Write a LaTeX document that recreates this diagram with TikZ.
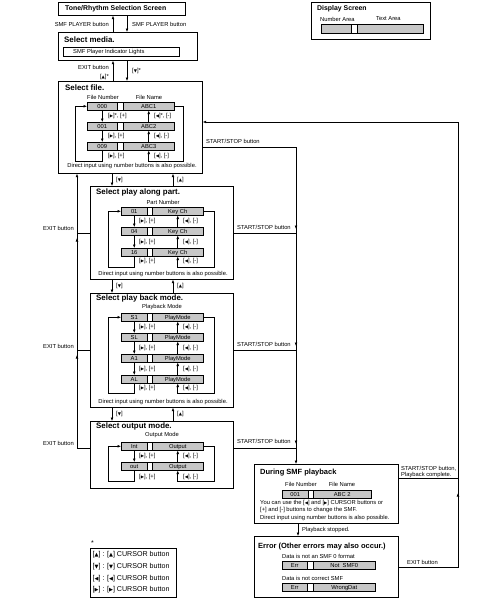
\documentclass[tikz,border=0pt]{standalone}
\usepackage{fontspec}
\setmainfont{Liberation Sans}
\newfontfamily\symf{DejaVu Sans}[Scale=0.72]
\usetikzlibrary{arrows.meta,calc}
\newcommand\tU{{\symf ▲}}
\newcommand\tD{{\symf ▼}}
\newcommand\tL{{\symf ◀}}
\newcommand\tR{{\symf ▶}}
\newcommand\smallf{\fontsize{5.8}{6.4}\selectfont}
\newcommand\titlef{\fontsize{7.9}{9}\selectfont\bfseries}
\newcommand\titlefb{\fontsize{7.5}{9}\selectfont\bfseries}
\newcommand\toptitlef{\fontsize{6.9}{8}\selectfont\bfseries}
\newcommand\legf{\fontsize{7.1}{8}\selectfont}
\tikzset{
  box/.style={draw, line width=0.7pt, inner sep=0pt, anchor=north west},
  thinbox/.style={draw, line width=0.5pt, inner sep=0pt, anchor=north west},
  gbox/.style={draw, fill=black!22, line width=0.5pt, inner sep=0pt, anchor=north west, font=\smallf, text height=4.1pt, text depth=0pt},
  wbox/.style={draw, fill=white, line width=0.5pt, inner sep=0pt, anchor=north west},
  ttl/.style={anchor=west, inner sep=0pt, font=\titlef},
  ttlb/.style={anchor=west, inner sep=0pt, font=\titlefb},
  lbl/.style={anchor=west, inner sep=0pt, font=\smallf},
  lblr/.style={anchor=east, inner sep=0pt, font=\smallf},
  ctr/.style={inner sep=0pt, font=\smallf},
  leg/.style={anchor=west, inner sep=0pt, font=\legf},
  ln/.style={line width=0.6pt},
  arr/.style={line width=0.6pt, -{Latex[length=3.5pt,width=2.8pt]}},
}
% name, x1, d1, d2, x2, ytop, number, text, height
\newcommand\rowbar[9]{%
  \node[gbox, minimum width={(#3-#2)*1pt}, minimum height={#9*1pt}] (#1n) at (#2,#6) {#7};
  \node[wbox, minimum width={(#4-#3)*1pt}, minimum height={#9*1pt}] (#1d) at (#3,#6) {};
  \node[gbox, minimum width={(#5-#4)*1pt}, minimum height={#9*1pt}] (#1t) at (#4,#6) {#8};
}
% first, last, bottom drop, left offset, right offset
\newcommand\loops[5]{%
  \draw[arr] (#2n.south) -- ++(0,#3) -| ($(#1n.west)+(-#4,0)$) -- (#1n.west);
  \draw[arr] (#1t.east) -- ++(#5,0) |- ($(#2t.south)+(0,#3)$) -- (#2t.south);
}
\begin{document}
\begin{tikzpicture}[x=1pt,y=-1pt]
\useasboundingbox (0,0) rectangle (487,600);

% ---------- top boxes
\node[box, minimum width=127pt, minimum height=13pt] (tone) at (58,2) {};
\node[anchor=west, inner sep=0pt, font=\toptitlef] (tonet) at (65,8.5) {Tone/Rhythm Selection Screen};

\node[box, minimum width=139pt, minimum height=28pt] (media) at (58,32) {};
\node[ttl] (mediat) at (64,40) {Select media.};
\node[thinbox, minimum width=116pt, minimum height=9pt] (ind) at (63,47) {};
\node[lbl] (indt) at (73,51.5) {SMF Player Indicator Lights};

\coordinate (xa) at (113,0);
\coordinate (xb) at (127,0);
\draw[arr] (xa |- media.north) -- (xa |- tone.south);
\draw[arr] (xb |- tone.south) -- (xb |- media.north);
\node[lblr] (sp1) at (109,24) {SMF PLAYER button};
\node[lbl] (sp2) at (132,24) {SMF PLAYER button};

% display screen
\node[box, minimum width=119pt, minimum height=37pt] (disp) at (311,2) {};
\node[anchor=west, inner sep=0pt, font=\toptitlef] (dispt) at (317,9) {Display Screen};
\node[lbl] (na) at (320,19) {Number Area};
\node[lbl] (ta) at (376,19) {Text Area};
\rowbar{da}{321}{351}{357}{423}{24}{}{}{9}

% ---------- select file
\node[box, minimum width=144pt, minimum height=92pt] (file) at (58,81) {};
\draw[arr] (xa |- file.north) -- (xa |- media.south);
\draw[arr] (xb |- media.south) -- (xb |- file.north);
\node[lblr] (ex0) at (109,67) {EXIT button};
\node[lblr] (ex0b) at (109,77) {[\tU]*};
\node[lbl] (dn0) at (132,71) {[\tD]*};

\node[ttl] (filet) at (65,88) {Select file.};
\node[ctr] (fnum) at (103,97) {File Number};
\node[ctr] (fnam) at (149,97) {File Name};
\rowbar{fa}{87}{117}{123}{174}{102}{000}{ABC1}{8}
\rowbar{fb}{87}{117}{123}{174}{122}{001}{ABC2}{8}
\rowbar{fc}{87}{117}{123}{174}{142}{009}{ABC3}{8}
\draw[arr] (fan.south) -- (fbn.north);
\draw[arr] (fbn.south) -- (fcn.north);
\draw[arr] (fbt.north) -- (fat.south);
\draw[arr] (fct.north) -- (fbt.south);
\loops{fa}{fc}{11}{12}{9}
\node[lbl] (fl1) at (108,116) {[\tR]*, [+]};
\node[lbl] (fr1) at (154,116) {[\tL]*, [-]};
\node[lbl] (fl2) at (108,136) {[\tR], [+]};
\node[lbl] (fr2) at (154,136) {[\tL], [-]};
\node[lbl] (fl3) at (108,156) {[\tR], [+]};
\node[lbl] (fr3) at (154,156) {[\tL], [-]};
\node[ctr] (fdi) at (132,166) {Direct input using number buttons is also possible.};

% ---------- select play along part
\node[box, minimum width=143pt, minimum height=93pt] (play) at (90,186) {};
\coordinate (xd) at (112,0);
\coordinate (xu) at (173,0);
\draw[arr] (xd |- file.south) -- (xd |- play.north);
\draw[arr] (xu |- play.north) -- (xu |- file.south);
\node[lbl] (d1) at (116,180) {[\tD]};
\node[lbl] (u1) at (177,180) {[\tU]};

\node[ttl] (playt) at (96,192) {Select play along part.};
\node[ctr] (pnum) at (163,202) {Part Number};
\rowbar{pa}{121}{147}{152}{203}{207}{01}{Key Ch}{8}
\rowbar{pb}{121}{147}{152}{203}{227}{04}{Key Ch}{8}
\rowbar{pc}{121}{147}{152}{203}{248}{16}{Key Ch}{8}
\draw[arr] (pan.south) -- (pbn.north);
\draw[arr] (pbn.south) -- (pcn.north);
\draw[arr] (pbt.north) -- (pat.south);
\draw[arr] (pct.north) -- (pbt.south);
\loops{pa}{pc}{11}{13}{11}
\node[lbl] (pl1) at (139,221) {[\tR], [+]};
\node[lbl] (pr1) at (183,221) {[\tL], [-]};
\node[lbl] (pl2) at (139,241.5) {[\tR], [+]};
\node[lbl] (pr2) at (183,241.5) {[\tL], [-]};
\node[lbl] (pl3) at (139,261) {[\tR], [+]};
\node[lbl] (pr3) at (183,261) {[\tL], [-]};
\node[ctr] (pdi) at (163,274) {Direct input using number buttons is also possible.};

% ---------- select play back mode
\node[box, minimum width=143pt, minimum height=114pt] (back) at (90,293) {};
\draw[arr] (xd |- play.south) -- (xd |- back.north);
\draw[arr] (xu |- back.north) -- (xu |- play.south);
\node[lbl] (d2) at (116,286) {[\tD]};
\node[lbl] (u2) at (177,286) {[\tU]};

\node[ttl] (backt) at (96,298.5) {Select play back mode.};
\node[ctr] (bnum) at (162,307) {Playback Mode};
\rowbar{ba}{121}{147}{152}{203}{313}{S1}{PlayMode}{8}
\rowbar{bb}{121}{147}{152}{203}{333}{SL}{PlayMode}{8}
\rowbar{bc}{121}{147}{152}{203}{354}{A1}{PlayMode}{8}
\rowbar{bd}{121}{147}{152}{203}{375}{AL}{PlayMode}{8}
\draw[arr] (ban.south) -- (bbn.north);
\draw[arr] (bbn.south) -- (bcn.north);
\draw[arr] (bcn.south) -- (bdn.north);
\draw[arr] (bbt.north) -- (bat.south);
\draw[arr] (bct.north) -- (bbt.south);
\draw[arr] (bdt.north) -- (bct.south);
\loops{ba}{bd}{10}{13}{11}
\node[lbl] (bl1) at (139,327) {[\tR], [+]};
\node[lbl] (br1) at (183,327) {[\tL], [-]};
\node[lbl] (bl2) at (139,347.5) {[\tR], [+]};
\node[lbl] (br2) at (183,347.5) {[\tL], [-]};
\node[lbl] (bl3) at (139,368.5) {[\tR], [+]};
\node[lbl] (br3) at (183,368.5) {[\tL], [-]};
\node[lbl] (bl4) at (139,388) {[\tR], [+]};
\node[lbl] (br4) at (183,388) {[\tL], [-]};
\node[ctr] (bdi) at (163,402) {Direct input using number buttons is also possible.};

% ---------- select output mode
\node[box, minimum width=143pt, minimum height=67pt] (out) at (90,421) {};
\draw[arr] (xd |- back.south) -- (xd |- out.north);
\draw[arr] (xu |- out.north) -- (xu |- back.south);
\node[lbl] (d3) at (116,414) {[\tD]};
\node[lbl] (u3) at (177,414) {[\tU]};

\node[ttl] (outt) at (96,426.5) {Select output mode.};
\node[ctr] (onum) at (162,435) {Output Mode};
\rowbar{oa}{121}{147}{152}{203}{442}{Int}{Output}{8}
\rowbar{ob}{121}{147}{152}{203}{462}{out}{Output}{8}
\draw[arr] (oan.south) -- (obn.north);
\draw[arr] (obt.north) -- (oat.south);
\loops{oa}{ob}{11}{13}{11}
\node[lbl] (ol1) at (139,456) {[\tR], [+]};
\node[lbl] (or1) at (183,456) {[\tL], [-]};
\node[lbl] (ol2) at (139,477) {[\tR], [+]};
\node[lbl] (or2) at (183,477) {[\tL], [-]};

% ---------- EXIT line (left)
\coordinate (e1) at (77,233);
\coordinate (e2) at (77,350);
\coordinate (e3) at (77,448);
\draw[ln] (play.west |- e1) -- (e1);
\draw[ln] (back.west |- e2) -- (e2);
\draw[ln] (out.west |- e3) -- (e3);
\draw[arr] (e3) -- (e3 |- file.south);
\draw[arr] ($(e1)+(0,10)$) -- ($(e1)+(0,5)$);
\draw[arr] ($(e2)+(0,10)$) -- ($(e2)+(0,5)$);
\node[lblr] (ex1) at (74,228) {EXIT button};
\node[lblr] (ex2) at (74,346) {EXIT button};
\node[lblr] (ex3) at (74,443) {EXIT button};

% ---------- SMF playback
\node[box, minimum width=144pt, minimum height=59pt] (smf) at (254,464) {};
\node[ttlb] (smft) at (260,473) {During SMF playback};
\node[ctr] (snum) at (301,484) {File Number};
\node[ctr] (snam) at (342,484) {File Name};
\rowbar{sa}{282}{308}{313}{371}{490}{001}{ABC 2}{7.5}
\node[lbl] (s1t) at (260,503) {You can use the [\tL] and [\tR] CURSOR buttons or};
\node[lbl] (s2t) at (260,509.5) {[+] and [-] buttons to change the SMF.};
\node[lbl] (s3t) at (260,518) {Direct input using number buttons is also possible.};

% ---------- START/STOP line
\coordinate (s0) at (296,147);
\coordinate (s1) at (296,233);
\coordinate (s2) at (296,350);
\coordinate (s3) at (296,448);
\draw[ln] (file.east |- s0) -- (s0);
\draw[ln] (play.east |- s1) -- (s1);
\draw[ln] (back.east |- s2) -- (s2);
\draw[ln] (out.east |- s3) -- (s3);
\draw[arr] (s0) -- (s0 |- smf.north);
\draw[arr] ($(s1)+(0,-10)$) -- ($(s1)+(0,-4)$);
\draw[arr] ($(s2)+(0,-10)$) -- ($(s2)+(0,-4)$);
\draw[arr] ($(s3)+(0,-10)$) -- ($(s3)+(0,-4)$);
\node[lbl] (ss0) at (206,141) {START/STOP button};
\node[lbl] (ss1) at (237,227) {START/STOP button};
\node[lbl] (ss2) at (237,344) {START/STOP button};
\node[lbl] (ss3) at (237,441) {START/STOP button};

% ---------- Error
\node[box, minimum width=144pt, minimum height=61pt] (err) at (254,536) {};
\coordinate (xs) at (298,0);
\draw[arr] (xs |- smf.south) -- (xs |- err.north);
\node[lbl] (pbs) at (302,530) {Playback stopped.};
\node[ttlb] (errt) at (258,547) {Error (Other errors may also occur.)};
\node[lbl] (e1t) at (282,556) {Data is not an SMF 0 format};
\rowbar{ea}{282}{307}{313}{375}{561}{Err}{Not\ \ SMF0}{8}
\node[lbl] (e2t) at (282,578) {Data is not correct SMF};
\rowbar{eb}{282}{307}{313}{375}{583}{Err}{WrongDat}{8}

% ---------- big return loop
\coordinate (b0) at (458,122);
\coordinate (b1) at (458,478);
\coordinate (b2) at (458,567);
\draw[ln] (smf.east |- b1) -- (b1);
\draw[arr] (err.east |- b2) -- (b2) -- (b0) -- (file.east |- b0);
\draw[arr] ($(b1)+(0,22)$) -- ($(b1)+(0,15)$);
\node[lbl, align=left, anchor=south west] (ssb) at (401,478) {START/STOP button,\\Playback complete.};
\node[lbl] (exb) at (407,562) {EXIT button};

% ---------- legend
\node[anchor=west, inner sep=0pt, font=\fontsize{7}{8}\selectfont] (star) at (91,543) {*};
\node[box, minimum width=86pt, minimum height=49pt] (leg) at (90,548) {};
\node[leg] (lg1) at (92.5,555) {[\tU] : [\tU] CURSOR button};
\node[leg] (lg2) at (92.5,567) {[\tD] : [\tD] CURSOR button};
\node[leg] (lg3) at (92.5,579) {[\tL] : [\tL] CURSOR button};
\node[leg] (lg4) at (92.5,590) {[\tR] : [\tR] CURSOR button};
\end{tikzpicture}
\end{document}
